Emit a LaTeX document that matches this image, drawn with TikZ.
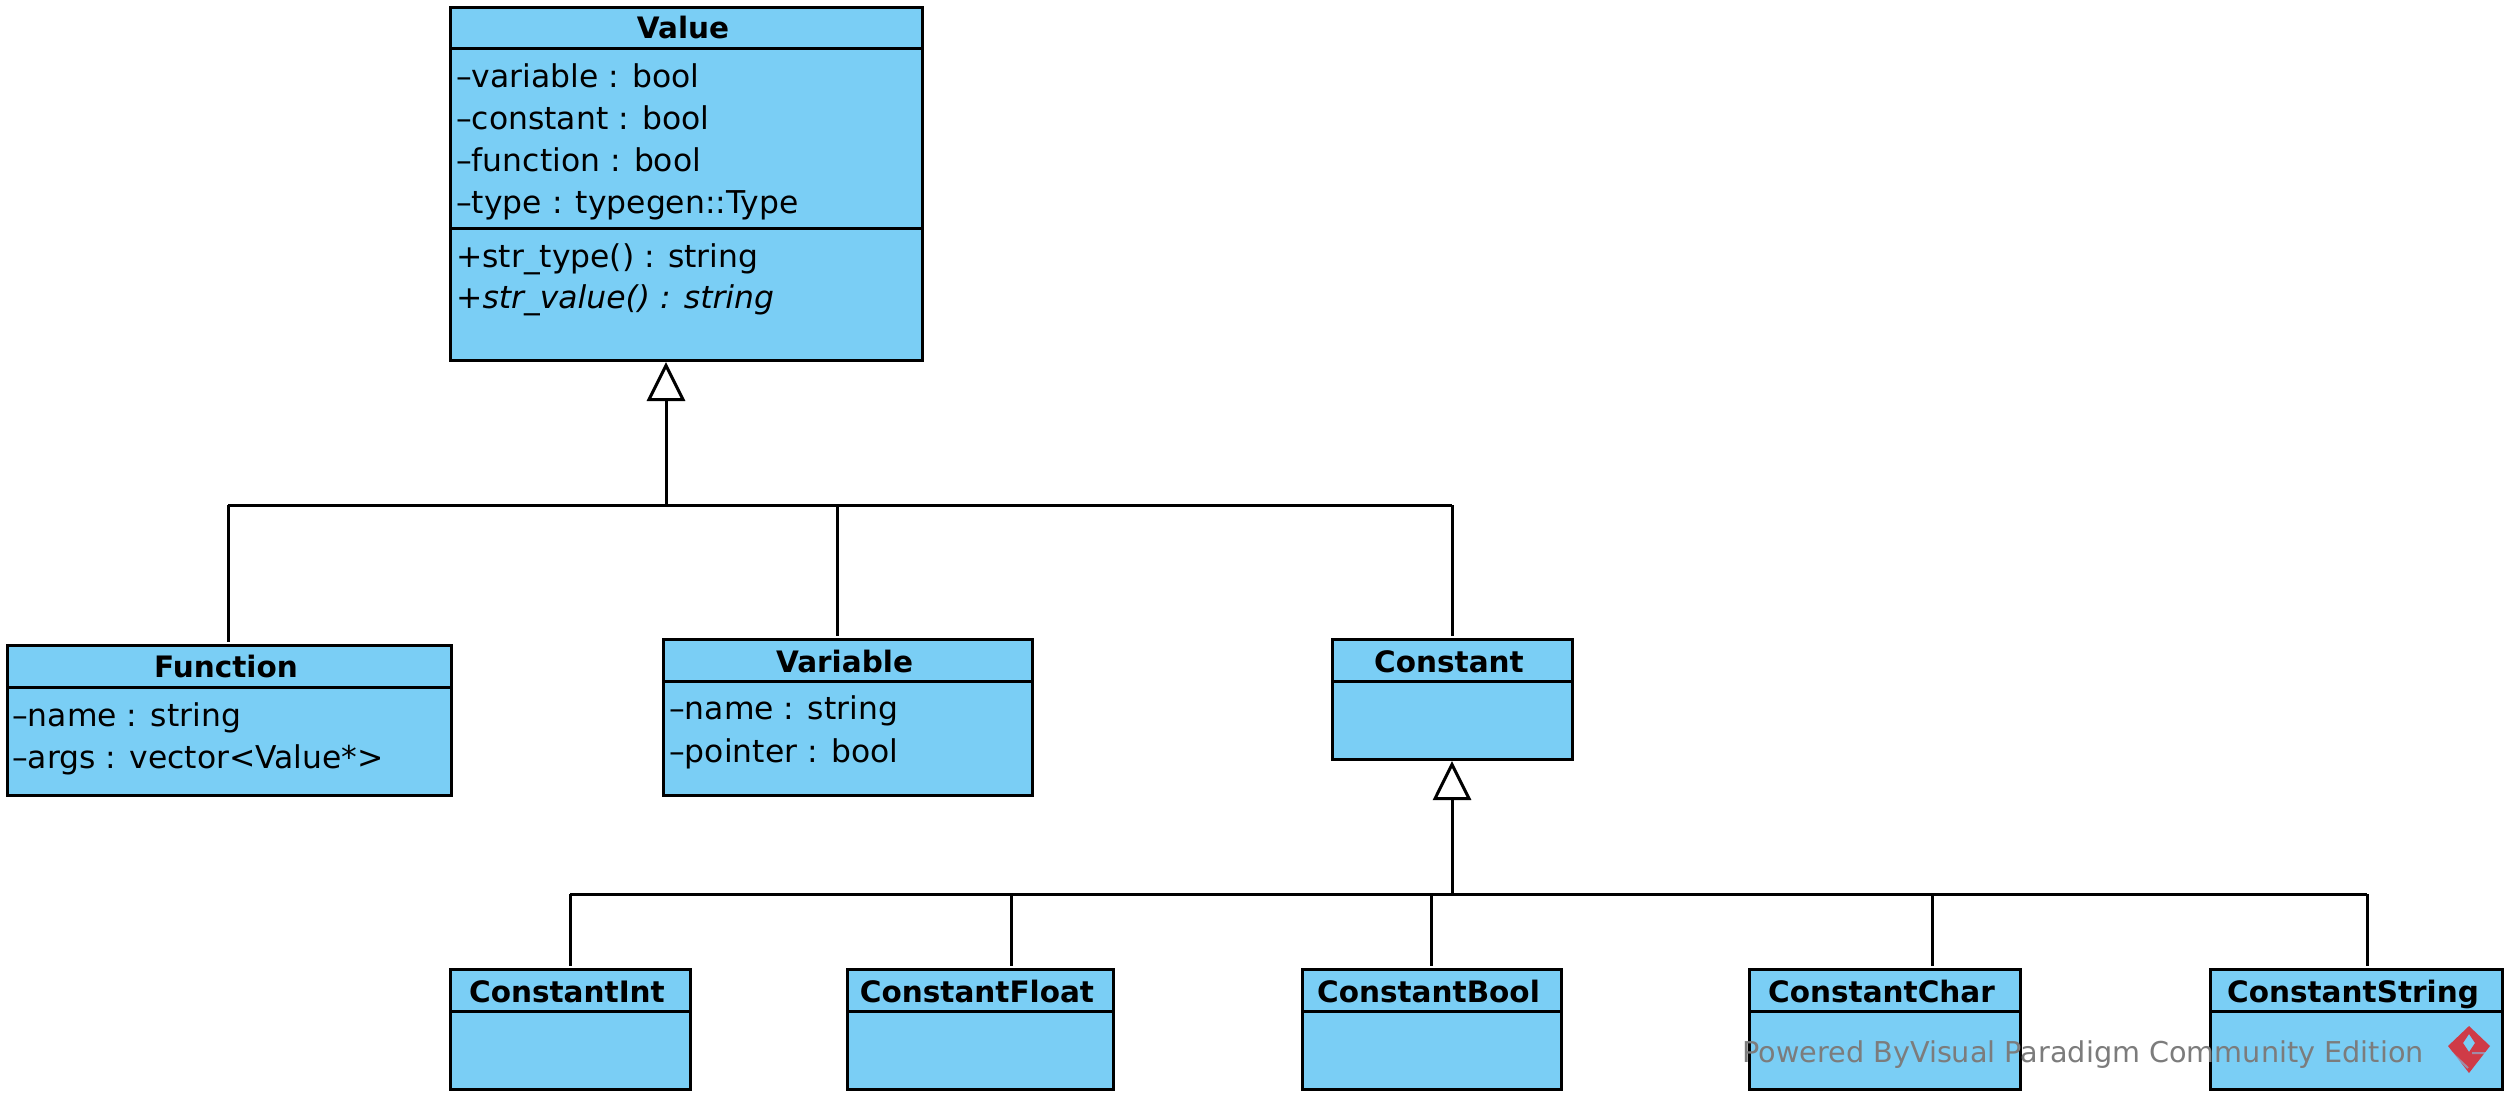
\documentclass[tikz,border=0pt]{standalone}
\usepackage{fontspec}
\setmainfont{DejaVu Sans}
\usetikzlibrary{arrows.meta}
\definecolor{umlblue}{HTML}{7ACEF5}
\definecolor{wmgrey}{HTML}{7C7C7C}
\definecolor{wmred}{HTML}{CF3B47}
\tikzset{
  classbox/.style={draw=black,fill=umlblue,line width=3pt,rectangle,inner sep=0pt,outer sep=0pt},
  classtitle/.style={anchor=base,inner sep=0pt,font=\fontsize{29.5}{36}\selectfont\bfseries},
  member/.style={anchor=base west,inner sep=0pt,font=\fontsize{31.4}{36}\selectfont},
  conn/.style={line width=3pt,draw=black},
  inherit/.style={conn,-{Triangle[open,fill=white,length=39pt,width=38pt]},shorten >=2pt},
  drop/.style={conn,shorten >=3pt},
  watermark/.style={anchor=base west,inner sep=0pt,text=wmgrey,font=\fontsize{28.7}{36}\selectfont}
}
\newcommand{\umlclass}[8]{%
  \pgfmathsetmacro{\umlcx}{(#2+#4)/2}%
  \pgfmathsetmacro{\umlcy}{(#3+#5)/2}%
  \pgfmathsetmacro{\umlw}{#4-#2}%
  \pgfmathsetmacro{\umlh}{#5-#3}%
  \pgfmathsetmacro{\umltx}{\umlcx-3}%
  \node[classbox,minimum width=\umlw pt,minimum height=\umlh pt] (#1) at (\umlcx,\umlcy) {};
  \draw[conn] (#1.west |- 0,#6) -- (#1.east |- 0,#6);
  \node[classtitle] (#1title) at (\umltx,#8) {#7};
}
\begin{document}
\begin{tikzpicture}[x=1pt,y=-1pt]
\useasboundingbox (0,0) rectangle (2505,1101);
% classes
\umlclass{value}{450}{7}{922}{360}{48}{Value}{38}
\draw[conn] (value.west |- 0,228) -- (value.east |- 0,228);
\umlclass{function}{7}{645}{451}{795}{687}{Function}{677}
\umlclass{variable}{663}{639}{1032}{795}{681}{Variable}{672}
\umlclass{constant}{1332}{639}{1572}{759}{681}{Constant}{672}
\umlclass{cint}{450}{969}{690}{1089}{1011}{ConstantInt}{1002}
\umlclass{cfloat}{847}{969}{1113}{1089}{1011}{ConstantFloat}{1002}
\umlclass{cbool}{1302}{969}{1561}{1089}{1011}{ConstantBool}{1002}
\umlclass{cchar}{1749}{969}{2020}{1089}{1011}{ConstantChar}{1002}
\umlclass{cstring}{2210}{969}{2502}{1089}{1011}{ConstantString}{1002}
% members
\node[member] (v1) at (456,87) {–variable : bool};
\node[member] (v2) at (456,129) {–constant : bool};
\node[member] (v3) at (456,171) {–function : bool};
\node[member] (v4) at (456,213) {–type : typegen::Type};
\node[member] (v5) at (456,267) {+str\_type() : string};
\node[member] (v6) at (456,308) {\itshape +str\_value() : string};
\node[member] (f1) at (12,726) {–name : string};
\node[member] (f2) at (12,768) {–args : vector<Value*>};
\node[member] (r1) at (669,719) {–name : string};
\node[member] (r2) at (669,762) {–pointer : bool};
% connectors: upper hierarchy
\coordinate (busA) at (666,505);
\coordinate (busAleft) at (228,505);
\coordinate (busAmid) at (837,505);
\coordinate (busAright) at (1452,505);
\draw[inherit] (busA) -- (busA |- value.south);
\draw[conn,line cap=butt] (busAleft) -- (busAright);
\draw[drop] (busAleft) -- (busAleft |- function.north);
\draw[drop] (busAmid) -- (busAmid |- variable.north);
\draw[drop] (busAright) -- (busAright |- constant.north);
% connectors: lower hierarchy
\coordinate (busB) at (1452,894);
\coordinate (busBa) at (570,894);
\coordinate (busBb) at (1011,894);
\coordinate (busBc) at (1431,894);
\coordinate (busBd) at (1932,894);
\coordinate (busBe) at (2367,894);
\draw[inherit] (busB) -- (busB |- constant.south);
\draw[conn] (busBa) -- (busBe);
\draw[drop] (busBa) -- (busBa |- cint.north);
\draw[drop] (busBb) -- (busBb |- cfloat.north);
\draw[drop] (busBc) -- (busBc |- cbool.north);
\draw[drop] (busBd) -- (busBd |- cchar.north);
\draw[drop] (busBe) -- (busBe |- cstring.north);
% watermark
\node[watermark] (wm) at (1742,1062) {Powered ByVisual Paradigm Community Edition};
\fill[wmred,even odd rule] (2469,1026) -- (2490,1046) -- (2469,1073) -- (2448,1046) -- cycle
  (2469,1034) -- (2475,1043) -- (2469,1052) -- (2463,1043) -- cycle;
\draw[umlblue,opacity=.55,line width=2pt] (2451,1052) -- (2468,1068) (2472,1053) -- (2488,1053);
\end{tikzpicture}
\end{document}
